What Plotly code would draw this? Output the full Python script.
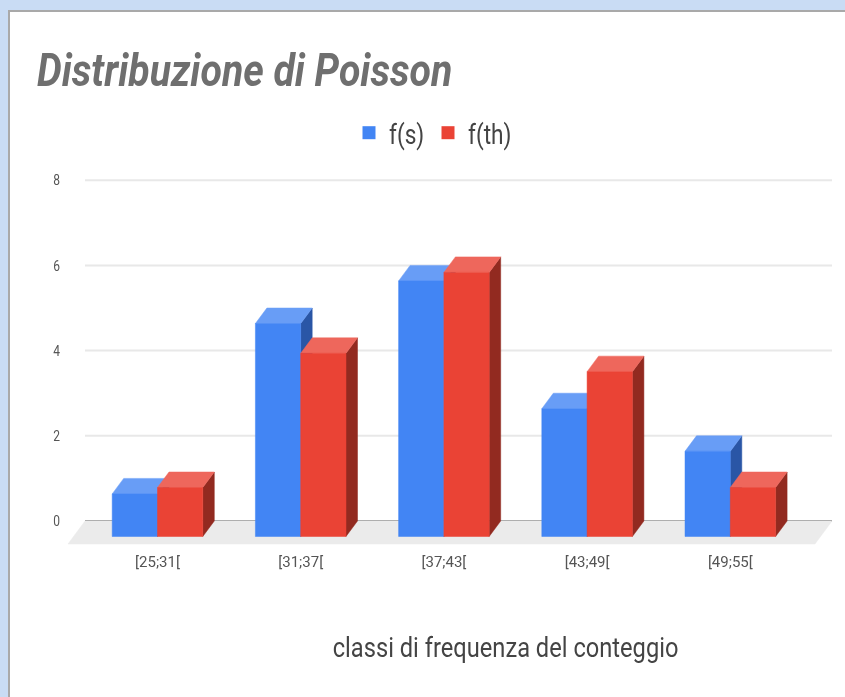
import plotly.graph_objects as go

categories = ["[25;31[", "[31;37[", "[37;43[", "[43;49[", "[49;55["]
f_s = [1.0, 5.0, 6.0, 3.0, 2.0]
f_th = [1.15, 4.3, 6.2, 3.87, 1.15]
y_ticks = [0, 2, 4, 6, 8]

W, H = 845, 697
PX_X0, PX_PER_X = 157.5, 143.2     # pixel of first category, pixels per category
PX_Y0, PX_PER_Y = 521.0, 42.6      # pixel of value 0, pixels per unit
AXIS_PX = 551

BAR_W = 45.3 / PX_PER_X
DX = 11.5 / PX_PER_X
DY = 15.5 / PX_PER_Y
GRID_X = [(85 - PX_X0) / PX_PER_X, (832 - PX_X0) / PX_PER_X]
FLOOR_DX = 17 / PX_PER_X
FLOOR_DY = 23 / PX_PER_Y

FONT = "Roboto, sans-serif"


def faces(values, x_shift):
    """Build the three faces of each bar: the value sets the back-plane height."""
    front, top, side = ([], []), ([], []), ([], [])
    for i, v in enumerate(values):
        x0 = i + x_shift
        x1 = x0 + BAR_W
        y_low = -DY
        y_high = v - DY
        for store, xs, ys in (
            (front, [x0, x1, x1, x0, x0], [y_low, y_low, y_high, y_high, y_low]),
            (top, [x0, x1, x1 + DX, x0 + DX, x0], [y_high, y_high, v, v, y_high]),
            (side, [x1, x1 + DX, x1 + DX, x1, x1], [y_low, 0, v, y_high, y_low]),
        ):
            store[0].extend(xs + [None])
            store[1].extend(ys + [None])
    return front, top, side


def poly(xy, color, **kw):
    return go.Scatter(x=xy[0], y=xy[1], mode="lines", fill="toself", fillcolor=color,
                      line=dict(color=color, width=0.5), showlegend=False,
                      hoverinfo="skip", **kw)


fig = go.Figure()

# floor
fig.add_trace(poly(([GRID_X[0], GRID_X[1], GRID_X[1] - FLOOR_DX, GRID_X[0] - FLOOR_DX, GRID_X[0]],
                    [0, 0, -FLOOR_DY, -FLOOR_DY, 0]), "#ebebeb"))

series = [
    ("f(s)", f_s, -BAR_W, "#4285f4", "#689df6", "#2a56a6"),
    ("f(th)", f_th, 0.0, "#ea4335", "#ee675c", "#922a20"),
]
for name, vals, shift, c_front, c_top, c_side in series:
    front, top, side = faces(vals, shift)
    fig.add_trace(poly(side, c_side))
    fig.add_trace(poly(top, c_top))
    fig.add_trace(poly(front, c_front))

# legend entries
for name, vals, shift, c_front, c_top, c_side in series:
    fig.add_trace(go.Scatter(x=[None], y=[None], mode="markers", name=name,
                             marker=dict(symbol="square", size=13, color=c_front)))

shapes = [
    dict(type="rect", xref="paper", yref="paper", x0=9 / W, x1=1.01, y0=-0.01, y1=1 - 11 / H,
         fillcolor="#ffffff", line=dict(color="#a9a9a9", width=2), layer="below")
]
for t in y_ticks:
    shapes.append(dict(type="line", xref="x", yref="y", x0=GRID_X[0], x1=GRID_X[1], y0=t, y1=t,
                       line=dict(color="#9a9a9a" if t == 0 else "#e8e8e8", width=2), layer="below"))

fig.update_layout(
    width=W, height=H,
    margin=dict(l=0, r=0, t=0, b=0),
    paper_bgcolor="#c9dcf4",
    plot_bgcolor="rgba(0,0,0,0)",
    shapes=shapes,
    showlegend=True,
    legend=dict(orientation="h", x=428 / W, xanchor="center", y=1 - 133 / H, yanchor="middle",
                font=dict(family=FONT, size=28, color="#444444"),
                bgcolor="rgba(0,0,0,0)", itemwidth=30, entrywidth=34, entrywidthmode="pixels",
                traceorder="normal"),
    title=dict(text="Distribuzione di Poisson", x=37 / W, xanchor="left",
               y=1 - 70 / H, yanchor="middle",
               font=dict(family=FONT, size=46, color="#6f6f6f",
                         style="italic", weight="bold")),
    xaxis=dict(range=[-PX_X0 / PX_PER_X, (W - PX_X0) / PX_PER_X], domain=[0, 1],
               tickmode="array", tickvals=list(range(len(categories))), ticktext=categories,
               showgrid=False, zeroline=False, showline=False, ticks="",
               tickfont=dict(family=FONT, size=15, color="#555555")),
    yaxis=dict(range=[(PX_Y0 - AXIS_PX) / PX_PER_Y, PX_Y0 / PX_PER_Y],
               domain=[1 - AXIS_PX / H, 1],
               anchor="free", position=60 / W,
               tickmode="array", tickvals=y_ticks,
               showgrid=False, zeroline=False, showline=False, ticks="",
               tickfont=dict(family=FONT, size=15, color="#555555")),
    annotations=[dict(text="classi di frequenza del conteggio", xref="paper", yref="paper",
                      x=505 / W, y=1 - 647 / H, xanchor="center", yanchor="middle",
                      showarrow=False,
                      font=dict(family=FONT, size=28, color="#444444"))],
)

# The reference is a horizontally squeezed, slightly soft screenshot: condense the
# real text elements and soften the page; drop the default body margin.
POST = """
document.body.style.margin = '0';
var gd = document.getElementById('{plot_id}');
var rules = [['.gtitle', 0.853], ['.legendtext', 0.81], ['.annotation-text', 0.845],
             ['.xtick text', 1.0], ['.ytick text', 0.8]];
rules.forEach(function (r) {
  gd.querySelectorAll(r[0]).forEach(function (t) {
    t.setAttribute('lengthAdjust', 'spacingAndGlyphs');
    t.setAttribute('textLength', t.getComputedTextLength() * r[1]);
  });
});
gd.querySelectorAll('.legend, .legend .scrollbox, .legend .groups, .legend .traces').forEach(function (e) {
  e.removeAttribute('clip-path');
  e.style.clipPath = 'none';
});
gd.style.filter = 'blur(0.6px)';
"""

fig.write_html("out.html", post_script=POST, config={"displayModeBar": False})
